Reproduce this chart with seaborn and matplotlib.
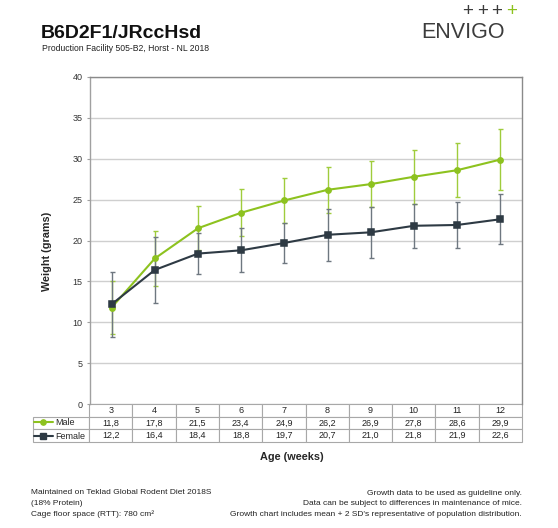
import numpy as np
import pandas as pd
import matplotlib.pyplot as plt
from matplotlib.lines import Line2D
import seaborn as sns

sns.set_style('white')
plt.rcParams['font.family'] = ['Liberation Sans', 'DejaVu Sans']

# data
weeks = [3, 4, 5, 6, 7, 8, 9, 10, 11, 12]
male_mean = [11.8, 17.8, 21.5, 23.4, 24.9, 26.2, 26.9, 27.8, 28.6, 29.9]
female_mean = [12.2, 16.4, 18.4, 18.8, 19.7, 20.7, 21.0, 21.8, 21.9, 22.6]
male_sd = [3.2, 3.4, 2.7, 2.9, 2.7, 2.85, 2.85, 3.3, 3.3, 3.7]
female_sd = [4.0, 4.0, 2.5, 2.7, 2.5, 3.2, 3.1, 2.7, 2.8, 3.05]
series_names = ['Male', 'Female']

green = '#8dc21f'
green_err = '#9fcc3c'
dark = '#2e3a44'
dark_err = '#6e7780'

W, H = 558, 528
fig = plt.figure(figsize=(W / 100, H / 100), dpi=100)
ax = fig.add_axes([90 / W, (H - 404) / H, 432 / W, 327 / H])

week_labels = [str(w) for w in weeks]
pos = np.arange(len(weeks))

# error bars (mean +/- SD)
ax.errorbar(pos, male_mean, yerr=male_sd, fmt='none', ecolor=green_err,
            elinewidth=1, capsize=1.8, capthick=1, zorder=2)
ax.errorbar(pos, female_mean, yerr=female_sd, fmt='none', ecolor=dark_err,
            elinewidth=1, capsize=1.8, capthick=1, zorder=2)

sns.pointplot(x=week_labels, y=male_mean, color=green, markers='o',
              markersize=3.8, linewidth=1.5, ax=ax, zorder=3)
sns.pointplot(x=week_labels, y=female_mean, color=dark, markers='s',
              markersize=5, linewidth=1.5, ax=ax, zorder=4)

ax.set_xlim(-0.5, len(weeks) - 0.5)
ax.set_ylim(0, 40)
ax.set_yticks(np.arange(0, 41, 5))
ax.set_xticks([])
ax.yaxis.grid(True, color='#cfcfcf', linewidth=1)
ax.set_axisbelow(True)
ax.tick_params(axis='y', which='both', left=True, length=2.5, width=0.8,
               color='#a0a0a0', labelsize=6.5, labelcolor='#333333', pad=3)
ax.spines['bottom'].set_visible(False)
ax.spines['left'].set_color('#a0a0a0')
ax.spines['top'].set_color('#8a8a8a')
ax.spines['right'].set_color('#8a8a8a')
for s in ['left', 'top', 'right']:
    ax.spines[s].set_linewidth(1)

ax.set_ylabel('Weight (grams)', fontsize=7.8, fontweight='bold')
ax.yaxis.label.set_va('center')
ax.yaxis.set_label_coords((46.7 - 90) / 432, (404 - 251) / 327)
ax.set_xlabel('Age (weeks)', fontsize=7.8, fontweight='bold')
ax.xaxis.label.set_va('center')
ax.xaxis.set_label_coords((291.5 - 90) / 432, -(456.7 - 404) / 327)

# data table under the plot (first column holds the legend keys)
def fmt(v):
    return f'{v:.1f}'.replace('.', ',')

tbl = ax.table(cellText=[[''] + [fmt(v) for v in male_mean],
                         [''] + [fmt(v) for v in female_mean]],
               colLabels=[''] + week_labels, cellLoc='center',
               bbox=[(33 - 90) / 432, -(442 - 404) / 327, 489 / 432, 38 / 327])
tbl.auto_set_font_size(False)
tbl.set_fontsize(6.5)
for (r, c), cell in tbl.get_celld().items():
    cell.set_edgecolor('#a8a8a8')
    cell.set_linewidth(0.8)
    cell.set_width(56 if c == 0 else 43.2)
    cell.get_text().set_color('#222222')
tbl[0, 0].set_visible(False)

handles = [Line2D([], [], color=green, marker='o', markersize=3.8, linewidth=1.5),
           Line2D([], [], color=dark, marker='s', markersize=4.5, linewidth=1.5)]
ax.legend(handles, series_names, loc='upper left', frameon=False, fontsize=6.5,
          bbox_to_anchor=((34 - 90) / 432, -(418 - 404) / 327),
          borderpad=0, borderaxespad=0, handlelength=2.1, handletextpad=0.25,
          labelspacing=0.55)

# header
fig.text(41 / W, 1 - 38.5 / H, 'B6D2F1/JRccHsd', fontsize=14, fontweight='bold',
         va='baseline', color='#111111')
fig.text(42 / W, 1 - 50.7 / H, 'Production Facility 505-B2, Horst - NL 2018',
         fontsize=6.2, va='baseline', color='#222222')

# logo
fig.text(505 / W, 1 - 37.7 / H, 'ENVIGO', fontsize=15.5, ha='right', va='baseline',
         color='#3c3c3c', fontweight='light')
for i in range(4):
    fig.text((468 + i * 14.5) / W, 1 - 15.5 / H, '+', fontsize=13.5, ha='center',
             va='baseline', color=green if i == 3 else '#3c3c3c', fontweight='light')

# footer
left_notes = ['Maintained on Teklad Global Rodent Diet 2018S', '(18% Protein)',
              'Cage floor space (RTT): 780 cm²']
right_notes = ['Growth data to be used as guideline only.',
               'Data can be subject to differences in maintenance of mice.',
               "Growth chart includes mean + 2 SD's representative of population distribution."]
for i, t in enumerate(left_notes):
    fig.text(31 / W, 1 - (494 + i * 10.8) / H, t, fontsize=6, va='baseline', color='#222222')
for i, t in enumerate(right_notes):
    fig.text(522 / W, 1 - (494.7 + i * 10.5) / H, t, fontsize=6, va='baseline',
             ha='right', color='#222222')

fig.savefig('out.png', dpi=100)
